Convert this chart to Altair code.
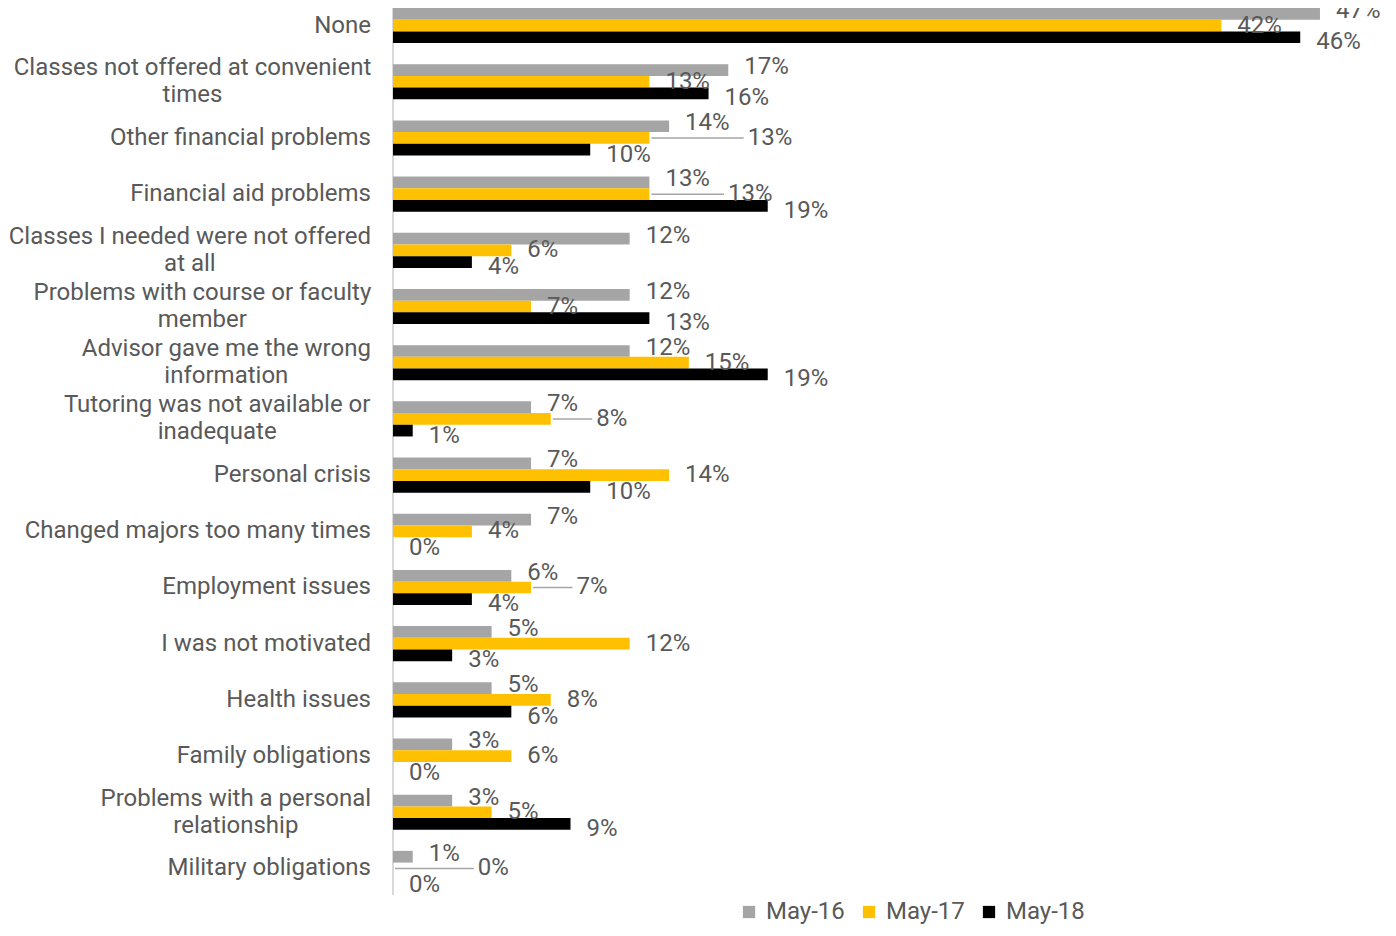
import altair as alt
import pandas as pd

categories = [
    "None",
    "Classes not offered at convenient\ntimes",
    "Other financial problems",
    "Financial aid problems",
    "Classes I needed were not offered\nat all",
    "Problems with course or faculty\nmember",
    "Advisor gave me the wrong\ninformation",
    "Tutoring was not available or\ninadequate",
    "Personal crisis",
    "Changed majors too many times",
    "Employment issues",
    "I was not motivated",
    "Health issues",
    "Family obligations",
    "Problems with a personal\nrelationship",
    "Military obligations",
]
series = ["May-16", "May-17", "May-18"]
may16 = [47, 17, 14, 13, 12, 12, 12, 7, 7, 7, 6, 5, 5, 3, 3, 1]
may17 = [42, 13, 13, 13, 6, 7, 15, 8, 14, 4, 7, 12, 8, 6, 5, 0]
may18 = [46, 16, 10, 19, 4, 13, 19, 1, 10, 0, 4, 3, 6, 0, 9, 0]
colors = ["#A5A5A5", "#FFC000", "#000000"]

# ---- layout constants ----
W = 995
H = 878
XMAX = 50.45
PX = W / XMAX            # pixels per percentage point
FONT = "Roboto"
FS = 24
TXT = "#595959"
LABEL_DX = 16
SERIES_DY = {"May-16": -3, "May-17": 0, "May-18": 5}

# approximate Roboto advance widths (em) for text-width estimates
CW = {" ": .248, "a": .531, "b": .547, "c": .510, "d": .550, "e": .517,
      "f": .339, "g": .548, "h": .538, "i": .237, "k": .495, "l": .237,
      "m": .855, "n": .539, "o": .557, "p": .547, "r": .331, "s": .503,
      "t": .319, "u": .538, "v": .473, "w": .733, "y": .462, "C": .635,
      "P": .631, "A": .652, "T": .597, "I": .272, "%": .735}


def text_w(s):
    return sum(CW.get(ch, .5618) for ch in s) * FS


rows = []
for i, c in enumerate(categories):
    for s, vals in zip(series, [may16, may17, may18]):
        rows.append({"category": c, "series": s, "value": vals[i]})
df = pd.DataFrame(rows)

# ---- data-label placement (simple collision avoidance) ----
step = H / (16 - 0.375)
bar_h = step * 0.625 / 3
rel_y = {"May-16": -bar_h + SERIES_DY["May-16"], "May-17": 0,
         "May-18": bar_h + SERIES_DY["May-18"]}
lab_rows, lead_rows = [], []
for i, c in enumerate(categories):
    vals = {"May-16": may16[i], "May-17": may17[i], "May-18": may18[i]}
    box = {}
    for s in series:
        t = f"{vals[s]}%"
        x0 = vals[s] * PX + LABEL_DX
        box[s] = [x0, x0 + text_w(t), t]
    ys = box["May-17"]
    hits = [o for o in ("May-16", "May-18")
            if abs(rel_y[o]) < 18 and box[o][0] < ys[1] + 6 and ys[0] < box[o][1] + 6]
    if hits:
        nx = max(box[o][1] for o in hits) + 18
        lead_rows.append({"category": c, "series": "May-17",
                          "x1": vals["May-17"] + 2 / PX, "x2": (nx - 4) / PX})
        box["May-17"][1] = nx + (ys[1] - ys[0])
        box["May-17"][0] = nx
    for s in series:
        lab_rows.append({"category": c, "series": s, "lx": box[s][0] / PX,
                         "label": box[s][2]})
lab_df = pd.DataFrame(lab_rows)
lead_df = pd.DataFrame(lead_rows)

# ---- category labels (multi-line ones are centred like the original) ----
cat_rows = []
for c in categories:
    lines = c.split("\n")
    w = max(text_w(l) for l in lines) * 1.02
    cat_rows.append({"category": c, "multi": len(lines) > 1,
                     "px": -22 - w / 2 if len(lines) > 1 else -22})
cat_df = pd.DataFrame(cat_rows)

yscale = alt.Scale(domain=categories, paddingInner=0.375, paddingOuter=0)
y_enc = alt.Y("category:N", sort=categories, scale=yscale, axis=None)
x_enc = alt.X("value:Q", scale=alt.Scale(domain=[0, XMAX]), axis=None)
yoff = alt.YOffset("series:N", sort=series, scale=alt.Scale(domain=series))

bars = alt.Chart(df).mark_bar().encode(
    y=y_enc,
    x=x_enc,
    yOffset=yoff,
    color=alt.Color(
        "series:N",
        sort=series,
        scale=alt.Scale(domain=series, range=colors),
        legend=alt.Legend(
            title=None, orient="none", legendX=344, legendY=892,
            direction="horizontal", symbolType="square", symbolSize=150,
            symbolStrokeWidth=0, labelFontSize=FS, labelColor=TXT,
            labelFont=FONT, columnPadding=12, labelOffset=5,
        ),
    ),
)

leaders = alt.Chart(lead_df).mark_rule(color="#A6A6A6", strokeWidth=1.5).encode(
    y=y_enc,
    yOffset=yoff,
    x=alt.X("x1:Q", scale=alt.Scale(domain=[0, XMAX]), axis=None),
    x2="x2:Q",
)

texts = []
for s in series:
    t = (
        alt.Chart(lab_df)
        .transform_filter(alt.datum.series == s)
        .mark_text(align="left", baseline="middle", dy=SERIES_DY[s],
                   fontSize=FS, font=FONT, color=TXT)
        .encode(y=y_enc, yOffset=yoff,
                x=alt.X("lx:Q", scale=alt.Scale(domain=[0, XMAX]), axis=None),
                text="label:N")
    )
    texts.append(t)

single = (
    alt.Chart(cat_df)
    .transform_filter("!datum.multi")
    .mark_text(align="right", baseline="middle", fontSize=FS, font=FONT, color=TXT)
    .encode(y=y_enc, x=alt.X("px:Q", scale=None), text="category:N")
)
multi = (
    alt.Chart(cat_df)
    .transform_filter("datum.multi")
    .transform_calculate(lines="split(datum.category, '\\n')")
    .mark_text(align="center", baseline="middle", fontSize=FS, font=FONT,
               color=TXT, lineHeight=27, dy=-13.5)
    .encode(y=y_enc, x=alt.X("px:Q", scale=None), text="lines:N")
)

axis_line = alt.Chart(cat_df).mark_rule(color="#D9D9D9", strokeWidth=2).encode(
    x=alt.value(0), y=alt.value(0), y2=alt.value(H + 9)
)

chart = (
    alt.layer(axis_line, bars, leaders, *texts, single, multi)
    .properties(
        width=W, height=H,
        autosize=alt.AutoSizeParams(type="none"),
        padding={"left": 385, "top": 0, "right": 0, "bottom": 42},
    )
    .configure_view(stroke=None)
)

chart.save("out.html", embed_options={"renderer": "svg", "actions": False})
